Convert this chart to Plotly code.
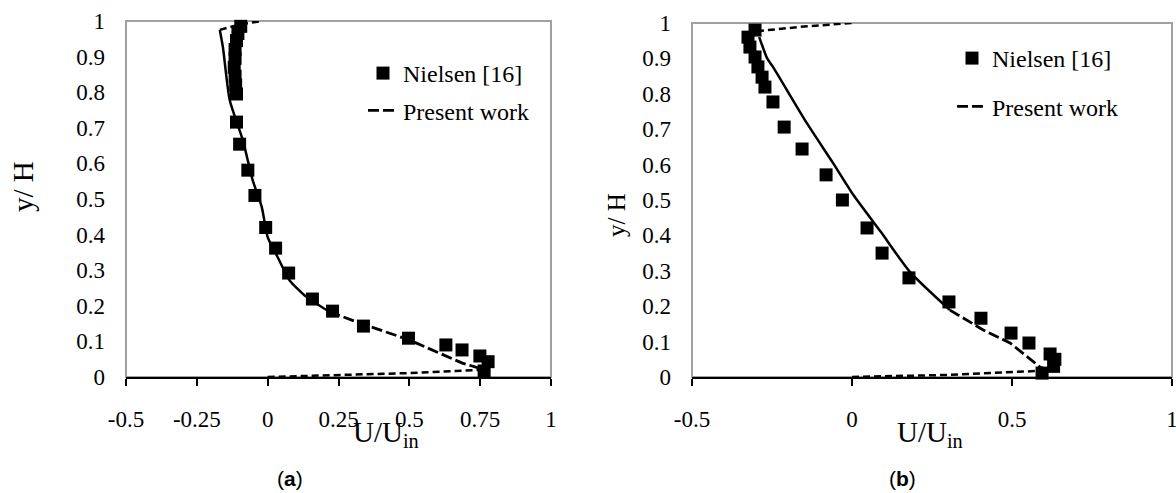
import plotly.graph_objects as go

# ---------------- data ----------------
# Panel (a): Nielsen [16] experimental points
nielsen_a_u = [-0.095, -0.105, -0.11, -0.115, -0.115, -0.118, -0.115, -0.113, -0.11,
               -0.11, -0.099, -0.07, -0.045, -0.007, 0.028, 0.074, 0.158, 0.229,
               0.338, 0.497, 0.629, 0.686, 0.749, 0.778, 0.764]
nielsen_a_y = [0.985, 0.965, 0.945, 0.92, 0.895, 0.87, 0.845, 0.82, 0.795,
               0.716, 0.654, 0.581, 0.51, 0.42, 0.362, 0.292, 0.219, 0.185,
               0.143, 0.109, 0.09, 0.076, 0.059, 0.043, 0.017]
# Panel (a): present work profile (upper solid part, lower dashed part, wall segments)
present_a_upper_u = [-0.169, -0.158, -0.134, -0.088, -0.053, -0.021, 0.0, 0.035, 0.077, 0.137, 0.218]
present_a_upper_y = [0.975, 0.927, 0.778, 0.666, 0.553, 0.478, 0.393, 0.337, 0.272, 0.225, 0.183]
present_a_lower_u = [0.218, 0.324, 0.5, 0.595, 0.687, 0.746, 0.757]
present_a_lower_y = [0.183, 0.152, 0.104, 0.07, 0.039, 0.025, 0.02]
present_a_bottom_u = [0.0, 0.25, 0.5, 0.757]
present_a_bottom_y = [0.0, 0.005, 0.011, 0.02]
present_a_top_u = [-0.169, -0.1, -0.02]
present_a_top_y = [0.975, 0.99, 1.0]

# Panel (b)
nielsen_b_u = [-0.303, -0.325, -0.319, -0.303, -0.294, -0.281, -0.272, -0.247, -0.212,
               -0.156, -0.081, -0.03, 0.047, 0.094, 0.178, 0.303, 0.403, 0.497,
               0.553, 0.619, 0.634, 0.63, 0.594]
nielsen_b_y = [0.98, 0.96, 0.932, 0.904, 0.876, 0.847, 0.819, 0.777, 0.706,
               0.644, 0.571, 0.5, 0.421, 0.35, 0.28, 0.212, 0.166, 0.124,
               0.096, 0.065, 0.05, 0.03, 0.011]
present_b_upper_u = [-0.29, -0.265, -0.247, -0.141, -0.059, 0.0, 0.09, 0.181, 0.306]
present_b_upper_y = [0.96, 0.90, 0.876, 0.717, 0.604, 0.52, 0.41, 0.297, 0.189]
present_b_lower_u = [0.306, 0.41, 0.494, 0.588, 0.61]
present_b_lower_y = [0.189, 0.133, 0.096, 0.028, 0.02]
present_b_bottom_u = [0.0, 0.3, 0.578, 0.61]
present_b_bottom_y = [0.0, 0.006, 0.017, 0.02]
present_b_top_u = [-0.297, -0.15, 0.0]
present_b_top_y = [0.977, 0.99, 1.0]

y_ticks = [0, 0.1, 0.2, 0.3, 0.4, 0.5, 0.6, 0.7, 0.8, 0.9, 1]
y_tick_text = ["0", "0.1", "0.2", "0.3", "0.4", "0.5", "0.6", "0.7", "0.8", "0.9", "1"]
xa_ticks = [-0.5, -0.25, 0, 0.25, 0.5, 0.75, 1]
xa_tick_text = ["-0.5", "-0.25", "0", "0.25", "0.5", "0.75", "1"]
xb_ticks = [-0.5, 0, 0.5, 1]
xb_tick_text = ["-0.5", "0", "0.5", "1"]

# ---------------- styling ----------------
W, H = 1176, 493
SERIF = "Liberation Serif, Times New Roman, serif"
SANS = "Liberation Sans, Arial, sans-serif"
BLACK = "black"
GRAY = "#a0a0a0"

dom_xa = [126 / W, 551 / W]
dom_xb = [692 / W, 1172 / W]
dom_ya = [(H - 377) / H, (H - 21) / H]
dom_yb = [(H - 377) / H, (H - 23) / H]

fig = go.Figure()


def add_panel(xa, ya, legend, nu, ny, uu, uy, lu, ly, bu, by, tu, ty):
    fig.add_trace(go.Scatter(x=nu, y=ny, mode="markers", name="Nielsen [16]",
                             marker=dict(symbol="square", size=13, color=BLACK, line=dict(width=0)),
                             xaxis=xa, yaxis=ya, legend=legend, legendgroup=legend + "n",
                             cliponaxis=False))
    fig.add_trace(go.Scatter(x=lu, y=ly, mode="lines", name="Present work",
                             line=dict(color=BLACK, width=2.8, dash="11px,4px"),
                             xaxis=xa, yaxis=ya, legend=legend, legendgroup=legend + "p"))
    fig.add_trace(go.Scatter(x=uu, y=uy, mode="lines", showlegend=False,
                             line=dict(color=BLACK, width=2.5, shape="spline", smoothing=0.6),
                             xaxis=xa, yaxis=ya))
    for wu, wy in ((bu, by), (tu, ty)):
        fig.add_trace(go.Scatter(x=wu, y=wy, mode="lines", showlegend=False,
                                 line=dict(color=BLACK, width=2.5, dash="7px,4px"),
                                 xaxis=xa, yaxis=ya, cliponaxis=False))


add_panel("x", "y", "legend", nielsen_a_u, nielsen_a_y, present_a_upper_u, present_a_upper_y,
          present_a_lower_u, present_a_lower_y, present_a_bottom_u, present_a_bottom_y,
          present_a_top_u, present_a_top_y)
add_panel("x2", "y2", "legend2", nielsen_b_u, nielsen_b_y, present_b_upper_u, present_b_upper_y,
          present_b_lower_u, present_b_lower_y, present_b_bottom_u, present_b_bottom_y,
          present_b_top_u, present_b_top_y)

tickfont = dict(family=SERIF, size=23, color=BLACK)


def xaxis(domain, anchor, tv, tt):
    return dict(domain=domain, anchor=anchor, range=[-0.5, 1], tickvals=tv, ticktext=tt,
                showline=True, linecolor=BLACK, linewidth=1.5, ticks="outside", ticklen=7,
                tickwidth=1.5, tickcolor=BLACK, showgrid=False, zeroline=False,
                tickfont=tickfont, ticklabelstandoff=14, fixedrange=True, automargin=False,
                ticklabeloverflow="allow")


def yaxis(domain, anchor):
    return dict(domain=domain, anchor=anchor, range=[0, 1], tickvals=y_ticks, ticktext=y_tick_text,
                showline=False, ticks="", showgrid=False, zeroline=False, tickfont=tickfont,
                ticklabelstandoff=20, fixedrange=True, automargin=False, ticklabeloverflow="allow")


def zero_axis(domain, overlay, pos):
    return dict(domain=domain, overlaying=overlay, anchor="free", position=pos, side="left",
                range=[0, 1], tickvals=y_ticks, showticklabels=False, showline=True,
                linecolor=BLACK, linewidth=1.5, ticks="outside", ticklen=6, tickwidth=1.5,
                tickcolor=BLACK, showgrid=False, zeroline=False, fixedrange=True, automargin=False)


def label(text, px, py, size, family=SERIF, angle=0):
    return dict(text=text, x=px / W, y=1 - py / H, xref="paper", yref="paper",
                xanchor="center", yanchor="middle", textangle=angle, showarrow=False,
                font=dict(family=family, size=size, color=BLACK))


legend_font = dict(family=SERIF, size=24, color=BLACK)

fig.update_layout(
    width=W, height=H, margin=dict(l=0, r=0, t=0, b=0, autoexpand=False),
    paper_bgcolor="white", plot_bgcolor="white",
    xaxis=xaxis(dom_xa, "y", xa_ticks, xa_tick_text),
    yaxis=yaxis(dom_ya, "x"),
    xaxis2=xaxis(dom_xb, "y2", xb_ticks, xb_tick_text),
    yaxis2=yaxis(dom_yb, "x2"),
    yaxis3=zero_axis(dom_ya, "y", dom_xa[0] + (dom_xa[1] - dom_xa[0]) / 3),
    yaxis4=zero_axis(dom_yb, "y2", dom_xb[0] + (dom_xb[1] - dom_xb[0]) / 3),
    legend=dict(x=363 / W, y=1 - 51 / H, xanchor="left", yanchor="top", font=legend_font,
                bgcolor="rgba(0,0,0,0)", traceorder="grouped", tracegroupgap=3,
                itemsizing="trace"),
    legend2=dict(x=952 / W, y=1 - 36 / H, xanchor="left", yanchor="top", font=legend_font,
                 bgcolor="rgba(0,0,0,0)", traceorder="grouped", tracegroupgap=14,
                 itemsizing="trace"),
    shapes=[
        dict(type="rect", xref="x domain", yref="y domain", x0=0, x1=1, y0=0, y1=1,
             line=dict(color=GRAY, width=2), layer="below"),
        dict(type="rect", xref="x2 domain", yref="y2 domain", x0=0, x1=1, y0=0, y1=1,
             line=dict(color=GRAY, width=2), layer="below"),
    ],
    annotations=[
        label("y/ H", 23, 187, 29, angle=-90),
        label("y/ H", 616, 215, 25, angle=-90),
        label("U/U<sub>in</sub>", 386, 434, 29),
        label("U/U<sub>in</sub>", 930, 434, 29),
        label("(<b>a</b>)", 290, 478, 21, family=SANS),
        label("(<b>b</b>)", 902, 478, 21, family=SANS),
    ],
)

fig.write_html("out.html")
